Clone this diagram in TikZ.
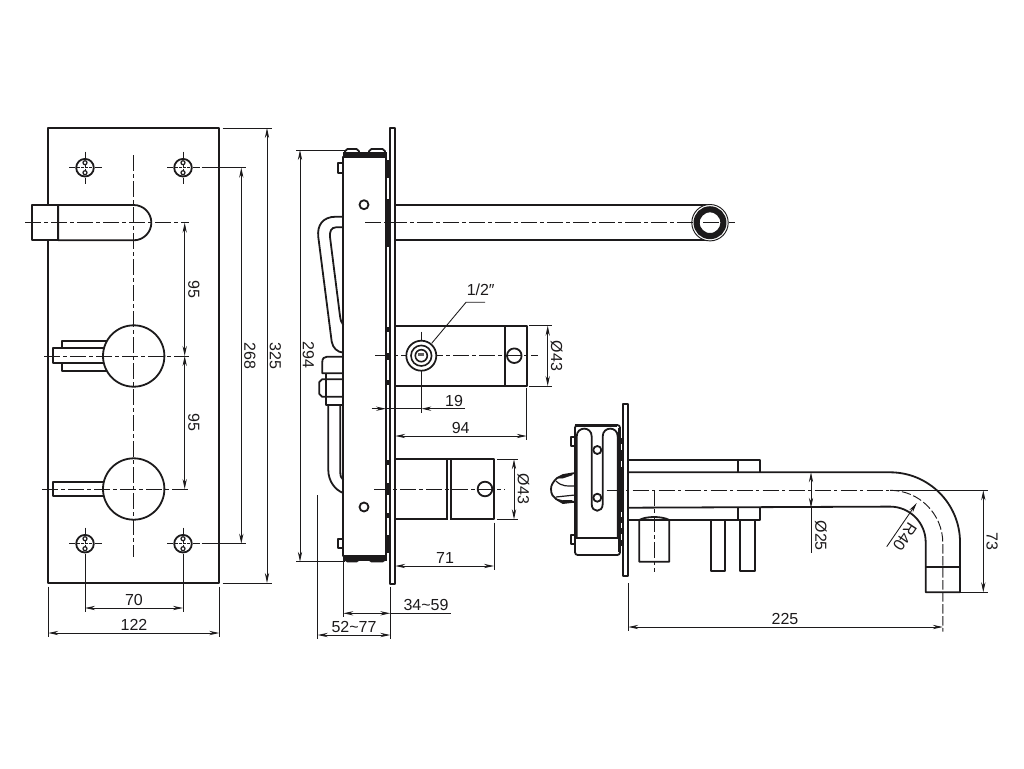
\documentclass[tikz,border=0pt]{standalone}
\usepackage{fontspec}
\setmainfont{Liberation Sans}
\usetikzlibrary{arrows.meta}
\definecolor{inkc}{HTML}{1C1A1B}
\tikzset{
  obj/.style={draw=inkc,line width=1.35pt,line join=round},
  blk/.style={draw=inkc,fill=inkc,line width=.4pt},
  thin/.style={draw=inkc,line width=.65pt},
  axis/.style={draw=inkc,line width=.7pt,dash pattern=on 12pt off 2.5pt on 2.5pt off 2.5pt},
  dashaxis/.style={draw=inkc,line width=.7pt,dash pattern=on 7pt off 2pt},
  dim/.style={draw=inkc,line width=.65pt,{Stealth[length=7.5pt,width=3.2pt]}-{Stealth[length=7.5pt,width=3.2pt]}},
  dimr/.style={draw=inkc,line width=.65pt,-{Stealth[length=7.5pt,width=3.2pt]}},
  lbl/.style={text=inkc,font=\fontsize{12}{13}\selectfont,inner sep=0pt},
  vlbl/.style={lbl,rotate=-90}
}
\newcommand{\mounthole}[2]{%
  \draw[thin] (#1-16,#2)--(#1-10,#2) (#1+10,#2)--(#1+17,#2) (#1,#2-16)--(#1,#2-10) (#1,#2+10)--(#1,#2+16);
  \draw[obj,fill=white] (#1,#2) circle[radius=8.8];
  \draw[draw=inkc,line width=.9pt] (#1,#2-5) circle[radius=2] (#1,#2+5) circle[radius=2];
  \draw[draw=inkc,line width=.6pt,dash pattern=on 2pt off 1pt] (#1-8,#2)--(#1+8,#2) (#1,#2-3)--(#1,#2+3);
}
\begin{document}
\begin{tikzpicture}[x=.75pt,y=-.75pt]
\useasboundingbox (0,0) rectangle (1024,768);
% ---------- front view ----------
\draw[obj] (48.3,128) rectangle (219.3,583);
\mounthole{85}{167.7}\mounthole{183}{167.7}\mounthole{85}{543.7}\mounthole{183}{543.7}
% top handle
\draw[obj,fill=white] (31.7,205) rectangle (58.3,240.3);
\draw[obj,fill=white] (58.3,205) -- (133.7,205) arc[start angle=-90,end angle=90,radius=17.65] -- (58.3,240.3) -- cycle;
% middle knob
\draw[obj,fill=white] (62.3,340.7) rectangle (108,370.7);
\draw[obj,fill=white] (52.7,348) rectangle (108,363.3);
\draw[obj,fill=white] (133.7,356) circle[radius=30.7];
% lower knob
\draw[obj,fill=white] (53,481.7) rectangle (108,496);
\draw[obj,fill=white] (133.7,489) circle[radius=30.7];
% axes
\draw[axis] (133.7,155) -- (133.7,557);
\draw[axis] (25,222.7) -- (189,222.7);
\draw[axis] (44,356) -- (189,356);
\draw[axis] (42,489) -- (189,489);
% front view dimensions
\coordinate (a1) at (184.7,222.7); \coordinate (a2) at (184.7,356); \coordinate (a3) at (184.7,489);
\draw[dim] (a1) -- (a2); \draw[dim] (a2) -- (a3);
\node[vlbl] (t95a) at (194,289) {95};
\node[vlbl] (t95b) at (194,422) {95};
\coordinate (b1) at (241.3,167.7); \coordinate (b2) at (241.3,543.7);
\draw[dim] (b1) -- (b2);
\draw[thin] (201.7,167.7)--(245.7,167.7) (201.7,543.7)--(245.7,543.7);
\node[vlbl] (t268) at (250,355.7) {268};
\coordinate (c1) at (267,128); \coordinate (c2) at (267,583);
\draw[dim] (c1) -- (c2);
\draw[thin] (222.7,128)--(271.7,128) (222.7,583)--(271.7,583);
\node[vlbl] (t325) at (275.5,356) {325};
\coordinate (d1) at (85,608); \coordinate (d2) at (183,608);
\draw[dim] (d1) -- (d2);
\draw[thin] (85,556)--(85,612) (183,556)--(183,612);
\node[lbl] (t70) at (134,600) {70};
\coordinate (e1) at (48.3,633); \coordinate (e2) at (219.3,633);
\draw[dim] (e1) -- (e2);
\draw[thin] (48.3,586.7)--(48.3,637) (219.3,586.7)--(219.3,637);
\node[lbl] (t122) at (134,625) {122};
% ---------- side view ----------
\draw[obj,fill=white] (390,127.7) rectangle (395.3,584);
\draw[obj] (386,160) -- (386,553);
\draw[obj] (343.3,156.7) rectangle (386,556);
\draw[blk] (343.3,152) rectangle (386,156.7);
\draw[blk] (343.3,556) rectangle (386,560);
\draw[obj,rounded corners=1.5pt] (345,152)--(345.5,149)--(358.5,149)--(359,152);
\draw[obj,rounded corners=1.5pt] (369,152)--(369.5,149)--(384.5,149)--(385,152);
\draw[obj,rounded corners=1.5pt] (345,560)--(345.5,561.5)--(358.5,561.5)--(359,560);
\draw[obj,rounded corners=1.5pt] (369,560)--(369.5,561.5)--(384.5,561.5)--(385,560);
\draw[obj] (338.3,163) rectangle (343.3,172.7);
\draw[obj] (338.3,539) rectangle (343.3,548);
\draw[obj] (364,204.7) circle[radius=4.5];
\draw[obj] (364,507) circle[radius=4.5];
\foreach \ya/\yb in {160/178,199/247,327/332,353/360,380/385,460/465,483/495,513/518,535/553}
  \fill[inkc] (386,\ya) rectangle (390,\yb);
% spout
\draw[obj] (395.3,205.3) -- (710,205.3);
\draw[obj] (395.3,240.3) -- (710,240.3);
\draw[draw=inkc,line width=.7pt,fill=white] (710,222.7) circle[radius=18.2];
\draw[draw=inkc,line width=4.6pt] (710,222.7) circle[radius=13.4];
\draw[axis] (365,222.7) -- (735,222.7);
% loop handle
\draw[obj] (343.3,216.7) -- (336,216.7) .. controls (322,216.7) and (317,226) .. (318.3,237) -- (331.7,341.7) .. controls (333,348) and (337,352) .. (343.3,352.7);
\draw[obj] (343.3,227.3) -- (336,227.3) .. controls (331,227.3) and (329.5,232) .. (330,237) -- (340,316) .. controls (340.5,320) and (341.5,323) .. (343.3,325);
% fitting
\draw[obj] (343.3,356.7) -- (327,356.7) .. controls (324,356.7) and (322.3,358.5) .. (322.3,362) -- (322.3,373.3) -- (343.3,373.3);
\draw[obj] (326,373.3) -- (326,379.3);
\draw[obj] (343.3,379.3) -- (322,379.3) -- (319.3,382) -- (319.3,394) -- (322,396.7) -- (343.3,396.7);
\draw[obj] (326,379.3) -- (326,396.7);
\draw[obj] (326,396.7) -- (326,405) -- (343.3,405);
\draw[obj] (328.3,405) -- (328.3,470) .. controls (328.3,481) and (335,490) .. (343.3,493);
\draw[obj] (340.3,405) -- (340.3,472) .. controls (340.3,476) and (341,478) .. (343.3,480);
% valve 1
\draw[obj] (395.3,325.7) rectangle (526.7,386);
\draw[obj] (505,325.7) -- (505,386);
\draw[obj,fill=white] (514.3,355.7) circle[radius=7.3];
\draw[axis] (375,355.7) -- (538,355.7);
\draw[thin] (421.3,331.7) -- (421.3,340) (421.3,371) -- (421.3,413);
\draw[draw=inkc,line width=1.3pt,fill=white] (421.3,355.7) circle[radius=15];
\draw[draw=inkc,line width=1.2pt] (421.3,355.7) circle[radius=10.3];
\draw[draw=inkc,line width=1.2pt] (421.3,355.7) circle[radius=6];
\fill[inkc!70] (418.3,352.5) rectangle (424.3,356);
\coordinate (lead1) at (431.7,343.3); \coordinate (lead2) at (466,302.3); \coordinate (lead3) at (485,302.3);
\draw[thin] (lead1) -- (lead2) -- (lead3);
\node[lbl] (thalf) at (480.7,290) {1/2″};
\coordinate (f1) at (547.7,325.7); \coordinate (f2) at (547.7,386);
\draw[dim] (f1) -- (f2);
\draw[thin] (529.3,325.7)--(552,325.7) (529.3,386)--(552,386);
\node[vlbl] (t43a) at (556.7,356) {Ø43};
\coordinate (g0) at (371.7,408.7); \coordinate (g1) at (386,408.7); \coordinate (g2) at (465,408.7); \coordinate (g3) at (421.3,408.7);
\draw[dimr] (g0) -- (g1);
\draw[dimr] (g2) -- (g3);
\draw[thin] (g1) -- (g3);
\node[lbl] (t19) at (454,400.7) {19};
\coordinate (h1) at (395.3,436); \coordinate (h2) at (526.7,436);
\draw[dim] (h1) -- (h2);
\draw[thin] (526.7,388)--(526.7,440);
\node[lbl] (t94) at (460.7,428) {94};
% valve 2
\draw[obj] (395.3,459.3) -- (494,459.3) -- (494,519.3) -- (395.3,519.3);
\draw[obj] (446.7,459.3) -- (446.7,519.3);
\draw[obj] (450.7,459.3) -- (450.7,519.3);
\fill[white] (447.5,518.2) rectangle (449.9,520.4);
\draw[obj,fill=white] (485,489) circle[radius=7.3];
\draw[axis] (374,489) -- (505,489);
\coordinate (i1) at (514,459.3); \coordinate (i2) at (514,519.3);
\draw[dim] (i1) -- (i2);
\draw[thin] (497,459.3)--(518,459.3) (497,519.3)--(518,519.3);
\node[vlbl] (t43b) at (523.3,489) {Ø43};
\coordinate (j1) at (395.3,566); \coordinate (j2) at (494,566);
\draw[dim] (j1) -- (j2);
\draw[thin] (494,522.7)--(494,570);
\node[lbl] (t71) at (445,558) {71};
\coordinate (k1) at (300,150); \coordinate (k2) at (300,561.7);
\draw[dim] (k1) -- (k2);
\draw[thin] (296,150)--(345,150) (296,561.7)--(345,561.7);
\node[vlbl] (t294) at (308.3,355) {294};
\coordinate (l1) at (317.7,635); \coordinate (l2) at (390.3,635);
\draw[dim] (l1) -- (l2);
\draw[thin] (317.7,495)--(317.7,639.3) (390.3,586.7)--(390.3,639.3);
\node[lbl] (t5277) at (354,627.3) {52\char"007E 77};
\coordinate (m1) at (343.3,613.3); \coordinate (m2) at (390.3,613.3);
\draw[dim] (m1) -- (m2);
\draw[thin] (343.3,561)--(343.3,616.7) (m2)--(450.7,613.3);
\node[lbl] (t3459) at (426,605) {34\char"007E 59};
% ---------- right view ----------
\draw[obj,fill=white] (623.3,404.3) rectangle (628.3,576);
\draw[obj,rounded corners=2pt] (575,425) -- (620,425) -- (620,555) -- (575,555) -- cycle;
\draw[blk] (575,424.6) rectangle (616,426.4);
\draw[draw=inkc,line width=.7pt] (618,428) -- (618,552);
\fill[inkc] (618,466.7) rectangle (623,511.7);
\foreach \ya/\yb in {438/444,450/456,456/461,517/523,528/534,540/546}
  \fill[inkc] (619,\ya) rectangle (622,\yb);
\draw[obj] (575,537.7) -- (618,537.7);
\draw[obj] (576.7,537.7) -- (576.7,436.5) .. controls (576.7,426) and (591.7,426) .. (591.7,436.5) -- (591.7,504) .. controls (591.7,513) and (602.7,513) .. (602.7,504) -- (602.7,436.5) .. controls (602.7,426) and (617.7,426) .. (617.7,436.5) -- (617.7,537.7);
\draw[obj,fill=white] (597.3,450) circle[radius=4];
\draw[obj,fill=white] (597.3,497.7) circle[radius=4];
\draw[obj] (571,436.7) rectangle (575,445.7);
\draw[obj] (571,535) rectangle (575,544);
\draw[obj] (575,473) -- (563,475) -- (557,478) .. controls (553,482) and (551,485) .. (551,489) .. controls (551,494) and (553,497) .. (556,499) -- (563,503) -- (575,501.7);
\draw[blk] (557,478) -- (563,475) -- (572,474) -- (572,475) -- (563,478) -- cycle;
\draw[blk] (556,499) -- (563,503) -- (572,502) -- (572,500.5) -- (563,500.5) -- cycle;
\draw[draw=inkc,line width=.9pt] (556,481) .. controls (562,487) and (568,486) .. (575,486);
\draw[draw=inkc,line width=.9pt] (556,497) -- (575,495);
% pipe and collars
\draw[obj] (628.3,460) -- (760,460) -- (760,472.3);
\draw[obj] (628.3,520.3) -- (760,520.3) -- (760,507.7);
\draw[obj] (737.7,460) -- (737.7,472.3);
\draw[obj] (737.7,507.7) -- (737.7,520.3);
\draw[obj] (628.3,472.3) -- (890,472.3) arc[start angle=-90,end angle=0,radius=70] -- (960,592.3) -- (925.7,592.3) -- (925.7,542.3) arc[start angle=0,end angle=-90,radius=35.7] -- (628.3,507.7);
\draw[obj] (925.7,566.7) -- (960,566.7);
\draw[axis] (606.7,490.3) -- (890,490.3);
\draw[dashaxis] (890,490.3) arc[start angle=-90,end angle=0,radius=52.8] -- (942.8,631.7);
% lower valve
\draw[obj] (639.3,520) .. controls (646,516) and (662,516) .. (669.3,520) -- (669.3,561.7) -- (639.3,561.7) -- cycle;
\draw[axis] (654.3,490) -- (654.3,571.7);
\draw[obj] (710.7,520.3) rectangle (725,571);
\draw[obj] (740,520.3) rectangle (755,571);
% right view dimensions
\coordinate (n1) at (811,472.3); \coordinate (n2) at (811,507.7); \coordinate (n3) at (811,553.3);
\draw[dim] (n1) -- (n2);
\draw[thin] (n2) -- (n3);
\node[vlbl] (t25) at (821,535.7) {Ø25};
\coordinate (o1) at (983.3,490.3); \coordinate (o2) at (983.3,592.3);
\draw[dim] (o1) -- (o2);
\draw[thin] (895,490.3)--(988,490.3) (960,592.3)--(988,592.3);
\node[vlbl] (t73) at (992,541) {73};
\coordinate (p1) at (628.3,627); \coordinate (p2) at (942.8,627);
\draw[dim] (p1) -- (p2);
\draw[thin] (628.3,583)--(628.3,631);
\node[lbl] (t225) at (785,619) {225};
\coordinate (q1) at (886.7,546.7); \coordinate (q2) at (916.7,503);
\draw[dimr] (q1) -- (q2);
\node[lbl,rotate=-124] (tr40) at (905,537) {R40};
\end{tikzpicture}
\end{document}
